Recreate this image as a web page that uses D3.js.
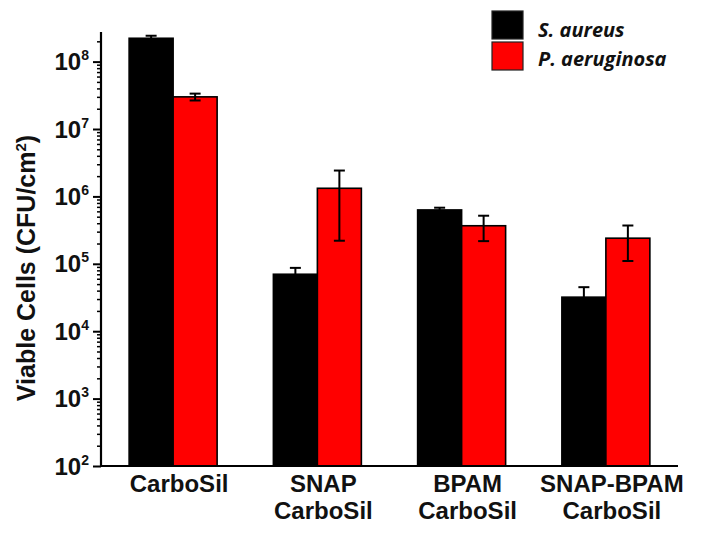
<!DOCTYPE html>
<html>
<head>
<meta charset="utf-8">
<script src="https://cdn.jsdelivr.net/npm/d3@7"></script>
<style>
  html, body { margin: 0; padding: 0; background: #fff; }
  svg { display: block; }
</style>
</head>
<body>
<svg id="chart" width="702" height="538"></svg>
<script>
// ---- data ----
const categories = ["CarboSil", "SNAP\nCarboSil", "BPAM\nCarboSil", "SNAP-BPAM\nCarboSil"];
const seriesNames = ["S. aureus", "P. aeruginosa"];
const seriesColors = ["#000000", "#ff0000"];
const saureusValues = [2.22e8, 7.0e4, 6.3e5, 3.2e4];
const saureusErrors = [2.0e7, 1.7e4, 5.0e4, 1.3e4];
const paeruginosaValues = [3.0e7, 1.32e6, 3.67e5, 2.4e5];
const paeruginosaErrors = [3.5e6, 1.1e6, 1.5e5, 1.3e5];
const yTickExponents = [2, 3, 4, 5, 6, 7, 8];
const yTitle = "Viable Cells (CFU/cm";

(function () {
// ---- layout ----
const svg = d3.select("#chart");
const pLeft = 101, pRight = 678, pTop = 32, pBottom = 466;

const x = d3.scaleBand().domain(categories).range([pLeft, pRight])
  .paddingInner(0.39).paddingOuter(0.195);
const xs = d3.scaleBand().domain(seriesNames).range([0, x.bandwidth()]);
const y = d3.scaleLog().domain([1e2, 2.75e8]).range([pBottom, pTop]);

const series = [
  { name: seriesNames[0], color: seriesColors[0], values: saureusValues, errors: saureusErrors },
  { name: seriesNames[1], color: seriesColors[1], values: paeruginosaValues, errors: paeruginosaErrors }
];

// bars
series.forEach(s => {
  const g = svg.append("g");
  g.selectAll("rect").data(categories).join("rect")
    .attr("x", (c) => x(c) + xs(s.name))
    .attr("y", (c, i) => y(s.values[i]))
    .attr("width", xs.bandwidth())
    .attr("height", (c, i) => pBottom - y(s.values[i]))
    .attr("fill", s.color)
    .attr("stroke", "#000")
    .attr("stroke-width", 1.6);
});

// error bars
series.forEach(s => {
  const g = svg.append("g").attr("stroke", "#000").attr("stroke-width", 2);
  categories.forEach((c, i) => {
    const cx = x(c) + xs(s.name) + xs.bandwidth() / 2;
    const hi = y(s.values[i] + s.errors[i]);
    const lo = y(Math.max(s.values[i] - s.errors[i], 1e2));
    g.append("line").attr("x1", cx).attr("x2", cx).attr("y1", hi).attr("y2", lo);
    g.append("line").attr("x1", cx - 5.5).attr("x2", cx + 5.5).attr("y1", hi).attr("y2", hi);
    g.append("line").attr("x1", cx - 5.5).attr("x2", cx + 5.5).attr("y1", lo).attr("y2", lo);
  });
});

// y axis (major + minor ticks)
const minorTicks = y.ticks().filter(v => {
  const e = Math.log10(v);
  return Math.abs(e - Math.round(e)) > 1e-6;
});
const yMinor = d3.axisLeft(y).tickValues(minorTicks).tickSize(4).tickFormat("");
svg.append("g").attr("transform", `translate(${pLeft},0)`).call(yMinor)
  .call(g => g.select(".domain").remove())
  .call(g => g.selectAll("line").attr("stroke", "#000").attr("stroke-width", 1.5));

const yMajor = d3.axisLeft(y).tickValues(yTickExponents.map(e => Math.pow(10, e)))
  .tickSize(8).tickFormat("");
const yAxisG = svg.append("g").attr("transform", `translate(${pLeft},0)`).call(yMajor);
yAxisG.select(".domain").remove();
yAxisG.selectAll("line").attr("stroke", "#000").attr("stroke-width", 2);
svg.append("line").attr("x1", pLeft).attr("x2", pLeft).attr("y1", pTop).attr("y2", pBottom + 1)
  .attr("stroke", "#000").attr("stroke-width", 2.2);

// y tick labels 10^n
yTickExponents.forEach(e => {
  const t = svg.append("text")
    .attr("x", pLeft - 12).attr("y", y(Math.pow(10, e)) + 8.5)
    .attr("text-anchor", "end")
    .attr("font-family", "Liberation Sans, Arial, sans-serif")
    .attr("font-weight", "bold").attr("font-size", 24).attr("fill", "#111");
  t.append("tspan").text("10");
  t.append("tspan").attr("dy", -10).attr("font-size", 14).text(String(e));
});

// x axis line
svg.append("line").attr("x1", pLeft - 1).attr("x2", pRight).attr("y1", pBottom).attr("y2", pBottom)
  .attr("stroke", "#000").attr("stroke-width", 2.2);

// category labels
categories.forEach(c => {
  const lines = c.split("\n");
  const cx = x(c) + x.bandwidth() / 2 + 6;
  const t = svg.append("text")
    .attr("text-anchor", "middle")
    .attr("font-family", "Liberation Sans, Arial, sans-serif")
    .attr("font-weight", "bold").attr("font-size", 24).attr("fill", "#111");
  lines.forEach((ln, k) => {
    t.append("tspan").attr("x", cx).attr("y", 492 + k * 27).text(ln);
  });
});

// y title
const yt = svg.append("text")
  .attr("transform", `translate(35,268) rotate(-90)`)
  .attr("text-anchor", "middle")
  .attr("font-family", "Liberation Sans, Arial, sans-serif")
  .attr("font-weight", "bold").attr("font-size", 25).attr("fill", "#111");
yt.append("tspan").text(yTitle);
yt.append("tspan").attr("dy", -9).attr("font-size", 15).text("2");
yt.append("tspan").attr("dy", 9).text(")");

// legend
const legend = svg.append("g");
series.forEach((s, i) => {
  legend.append("rect")
    .attr("x", 492).attr("y", 11 + i * 31)
    .attr("width", 31).attr("height", 28)
    .attr("fill", s.color).attr("stroke", "#222").attr("stroke-width", 1.2);
  legend.append("text")
    .attr("x", 538).attr("y", 37 + i * 29)
    .attr("font-family", "Open Sans, sans-serif")
    .attr("font-style", "italic").attr("font-weight", 700)
    .attr("font-size", 20).attr("fill", "#111")
    .text(s.name);
});
})();
</script>
</body>
</html>
